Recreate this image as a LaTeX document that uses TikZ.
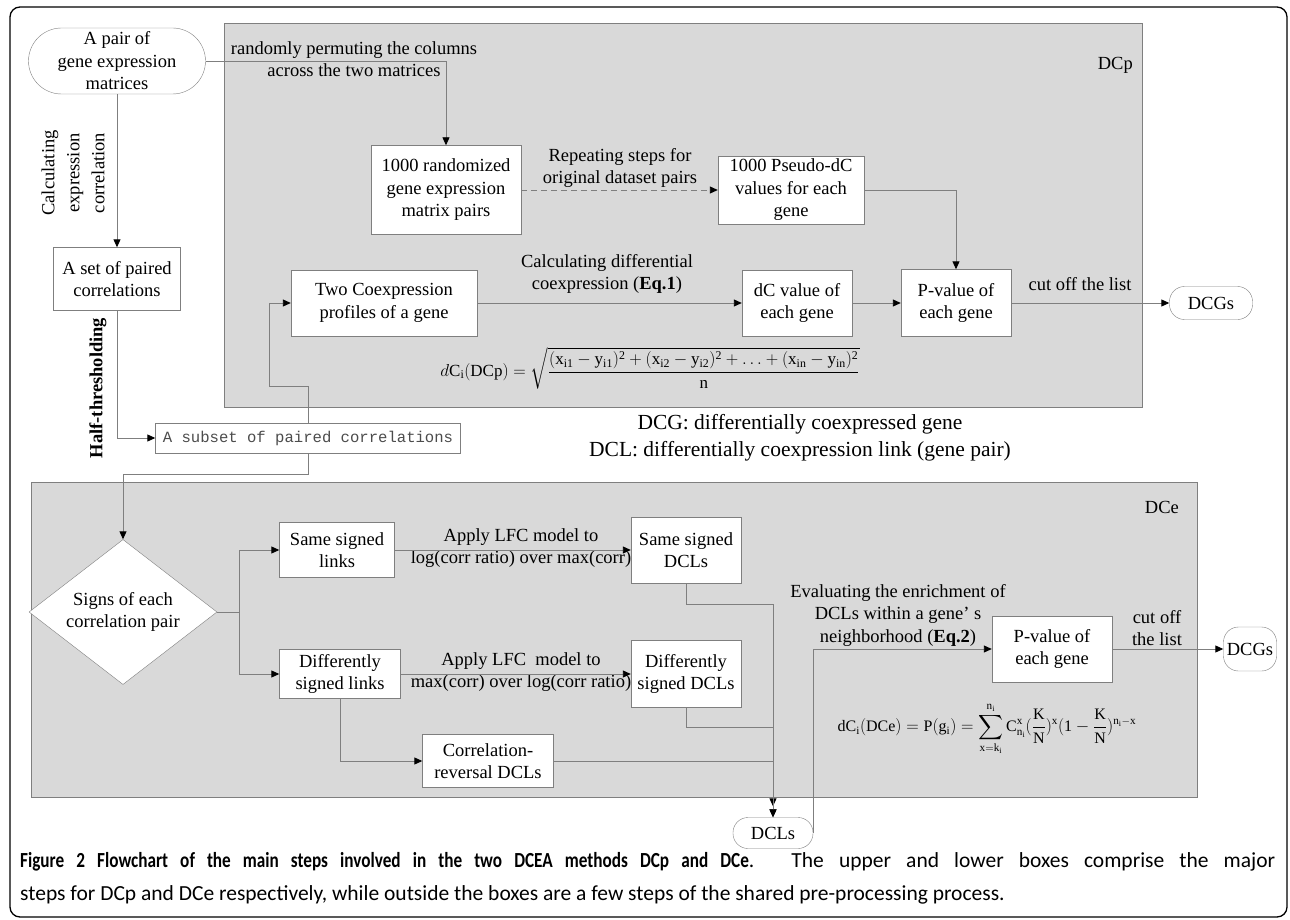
\documentclass[tikz,border=0pt]{standalone}
\usepackage{amsmath}
\usepackage{fontspec}
\setmainfont{Liberation Serif}
\setmonofont{Liberation Mono}
\newfontfamily\capfont[BoldFeatures={FakeStretch=0.8}]{Carlito}
\usetikzlibrary{positioning,arrows.meta,shapes.geometric}

\definecolor{panelgray}{HTML}{D9D9D9}
\definecolor{edgegray}{HTML}{7F7F7F}

\begin{document}
\begin{tikzpicture}[
x=1pt, y=-1pt,
box/.style={draw=edgegray, fill=white, align=center, inner sep=2pt, font=\fontsize{18.5}{22.5}\selectfont},
term/.style={box, rounded corners=15pt},
panel/.style={draw=edgegray, line width=0.8pt, fill=panelgray},
arrow/.style={draw=edgegray, line width=0.9pt, -{Triangle[length=8pt,width=7pt,color=black]}},
lbl/.style={align=center, inner sep=1pt, font=\fontsize{18.5}{22.5}\selectfont},
eqn/.style={inner sep=1pt, font=\fontsize{#1}{#1}\selectfont}
]
\useasboundingbox (0,0) rectangle (1290,920);
\draw[line width=1.3pt, rounded corners=10pt] (10,7) rectangle (1287,917);

% the two method panels
\draw[panel] (224,23) rectangle (1142,407);
\draw[panel] (31,482) rectangle (1197,797);
\node[lbl, anchor=east] (dcp) at (1134,65) {DCp};
\node[lbl, anchor=east] (dce) at (1180,507) {DCe};

% shared pre-processing
\node[term, rounded corners=33pt, minimum width=177pt, minimum height=66pt] (pair) at (117,61) {A pair of\\gene expression\\matrices};
\node[box, minimum width=127pt, minimum height=63pt] (set) at (117,279) {A set of paired\\correlations};
\node[box, font=\ttfamily\fontsize{15.6}{18}\selectfont, text=black!70, minimum width=305pt, minimum height=30pt] (subset) at (308,438) {A subset of paired correlations};
\node[lbl, rotate=90, font=\fontsize{18.5}{25}\selectfont] (calc) at (73,173) {Calculating\\expression\\correlation};
\node[lbl, rotate=90, font=\bfseries\fontsize{18.5}{22.5}\selectfont] (half) at (98,388) {Half-thresholding};

% DCp
\node[box, minimum width=150pt, minimum height=89pt] (rand) at (446,190) {1000 randomized\\gene expression\\matrix pairs};
\node[box, minimum width=146pt, minimum height=68pt] (pseudo) at (791,190) {1000 Pseudo-dC\\values for each\\gene};
\node[box, minimum width=186pt, minimum height=66pt] (coexp) at (384,303) {Two Coexpression\\profiles of a gene};
\node[box, minimum width=110pt, minimum height=66pt] (dcval) at (797,303) {dC value of\\each gene};
\node[box, minimum width=110pt, minimum height=67pt] (pvp) at (956,303) {P-value of\\each gene};
\node[term, minimum width=83pt, minimum height=33pt] (dcgp) at (1211,303) {DCGs};

\node[lbl] (perm) at (354,59) {randomly permuting the columns\\across the two matrices};
\node[lbl] (repeat) at (620,168) {Repeating steps for\\original dataset pairs};
\node[lbl] (calcdiff) at (607,274) {Calculating differential\\coexpression (\textbf{Eq.1})};
\node[lbl] (cutp) at (1080,284) {cut off the list};
\node[eqn=17] (eqone) at (650,368) {$\displaystyle d\mathrm{C_i(DCp)=\sqrt{\frac{(x_{i1}-y_{i1})^2+(x_{i2}-y_{i2})^2+\ldots+(x_{in}-y_{in})^2}{n}}}$};

\node[lbl, font=\fontsize{21.5}{27}\selectfont] (legend) at (800,438) {DCG: differentially coexpressed gene\\DCL: differentially coexpression link (gene pair)};

% DCe
\node[box, diamond, aspect=1.3, minimum width=188pt, minimum height=145pt, inner sep=0pt] (signs) at (123,612) {Signs of each\\correlation pair};
\node[box, minimum width=115pt, minimum height=55pt] (same) at (337,550) {Same signed\\links};
\node[box, minimum width=121pt, minimum height=49pt] (diff) at (340,674) {Differently\\signed links};
\node[box, minimum width=110pt, minimum height=66pt] (samedcl) at (686,550) {Same signed\\DCLs};
\node[box, minimum width=110pt, minimum height=67pt] (diffdcl) at (686,674) {Differently\\signed DCLs};
\node[box, minimum width=131pt, minimum height=53pt] (rev) at (488,761) {Correlation-\\reversal DCLs};
\node[term, minimum width=80pt, minimum height=31pt] (dcls) at (773,833) {DCLs};
\node[box, minimum width=120pt, minimum height=66pt] (pve) at (1052,649) {P-value of\\each gene};
\node[term, minimum width=53pt, minimum height=44pt, inner sep=1pt] (dcge) at (1250,649) {DCGs};

\node[lbl] (lfcsame) at (521,548) {Apply LFC model to\\log(corr ratio) over max(corr)};
\node[lbl] (lfcdiff) at (521,672) {Apply LFC\ \ model to\\max(corr) over log(corr ratio)};
\node[lbl] (enrich) at (898,615) {Evaluating the enrichment of\\DCLs within a gene’ s\\neighborhood (\textbf{Eq.2})};
\node[lbl] (cute) at (1157,628) {cut off\\the list};
\node[eqn=16] (eqtwo) at (987,729) {$\displaystyle \mathrm{dC_i(DCe)=P(g_i)=\sum_{x=k_i}^{n_i}C_{n_i}^{x}(\frac{K}{N})^{x}(1-\frac{K}{N})^{n_i-x}}$};

% connectors
\draw[arrow] (pair.south) -- (set.north);
\draw[arrow] (set.south) |- (subset.west);
\draw[arrow] (pair.east) -| (rand.north);
\draw[arrow, dash pattern=on 6pt off 4pt] (rand.east) -- (pseudo.west);
\draw[arrow] (pseudo.east) -| (pvp.north);
\draw[arrow] (subset.north) -- ++(0,-36) -- ++(-39,0) |- (coexp.west);
\draw[arrow] (coexp.east) -- (dcval.west);
\draw[arrow] (dcval.east) -- (pvp.west);
\draw[arrow] (pvp.east) -- (dcgp.west);

\draw[arrow] (subset.south) -- ++(0,21) -| (signs.north);
\draw[arrow] (signs.east) -- ++(22,0) |- (same.west);
\draw[arrow] (signs.east) -- ++(22,0) |- (diff.west);
\draw[arrow] (same.east) -- (samedcl.west);
\draw[arrow] (diff.east) -- (diffdcl.west);
\draw[arrow] (diff.south) |- (rev.west);
\draw[arrow, shorten >=11pt] (samedcl.south) -- ++(0,21) -| (dcls.north);
\draw[arrow] (diffdcl.south) -- ++(0,20) -| (dcls.north);
\draw[arrow] (rev.east) -| (dcls.north);
\draw[arrow] (dcls.east) |- (pve.west);
\draw[arrow] (pve.east) -- (dcge.west);

% caption
\node[anchor=base west, inner sep=0pt, text width=1255pt, align=justify, font=\capfont\fontsize{21.5}{33}\selectfont] (caption) at (20,867) {\textbf{Figure 2 Flowchart of the main steps involved in the two DCEA methods DCp and DCe}. The upper and lower boxes comprise the major\linebreak steps for DCp and DCe respectively, while outside the boxes are a few steps of the shared pre-processing process.};
\end{tikzpicture}
\end{document}
